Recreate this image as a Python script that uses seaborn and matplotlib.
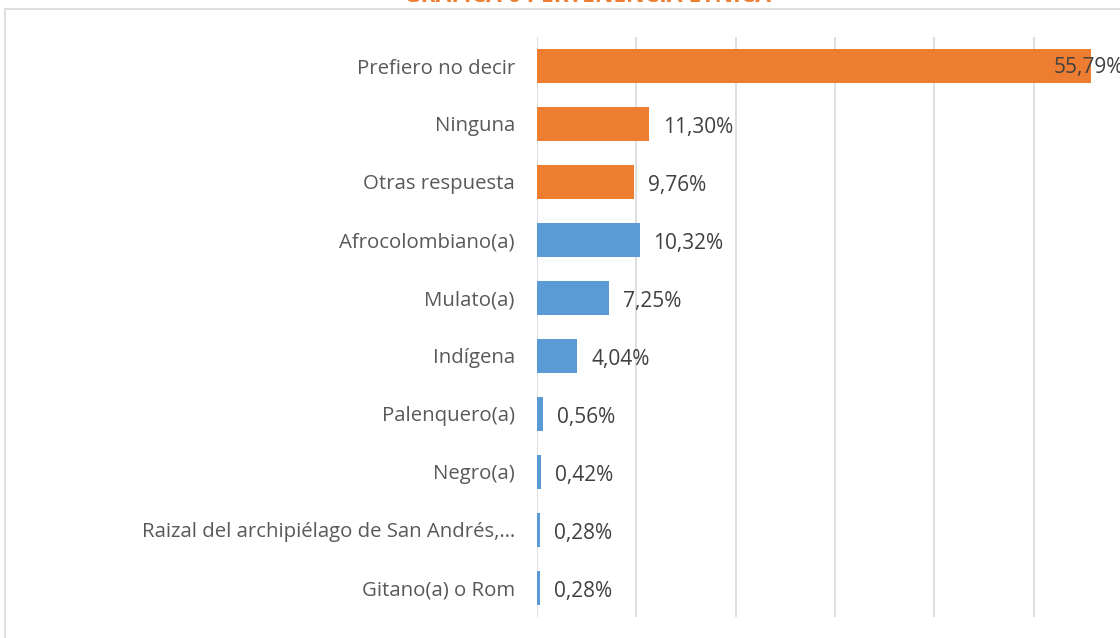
import pandas as pd
import matplotlib.pyplot as plt
import seaborn as sns
from matplotlib.patches import Rectangle

# values
categorias = ["Prefiero no decir", "Ninguna", "Otras respuesta", "Afrocolombiano(a)",
              "Mulato(a)", "Indígena", "Palenquero(a)", "Negro(a)",
              "Raizal del archipiélago de San Andrés,…", "Gitano(a) o Rom"]
porcentajes = [55.79, 11.30, 9.76, 10.32, 7.25, 4.04, 0.56, 0.42, 0.28, 0.28]
grupos = ["otro", "otro", "otro", "etnia", "etnia", "etnia", "etnia", "etnia", "etnia", "etnia"]
etiquetas = ["55,79%", "11,30%", "9,76%", "10,32%", "7,25%", "4,04%", "0,56%", "0,42%", "0,28%", "0,28%"]

df = pd.DataFrame({"categoria": categorias, "pct": porcentajes, "grupo": grupos})

sns.set_style("white")
plt.rcParams['font.family'] = ['Open Sans', 'DejaVu Sans']

fig = plt.figure(figsize=(11.2, 6.38), dpi=100)
ax = fig.add_axes([537 / 1120, 21 / 638, 596 / 1120, 580 / 638])

sns.barplot(data=df, y="categoria", x="pct", hue="grupo", dodge=False, width=0.6,
            palette={"otro": "#ED7D31", "etnia": "#5B9BD5"}, legend=False,
            saturation=1, linewidth=0, ax=ax, zorder=3)

ax.set_xlim(0, 60)
ax.set_ylim(9.5, -0.5)
ax.set_xticks(range(0, 61, 10))
ax.set_xticklabels([])
ax.grid(axis="x", color="#D9D9D9", lw=1.2, zorder=0)
ax.tick_params(axis="both", length=0)
ax.tick_params(axis="y", pad=16, labelsize=14.7, labelcolor="#595959")
for s in ax.spines.values():
    s.set_visible(False)
ax.set_xlabel("")
ax.set_ylabel("")

for i, (v, t) in enumerate(zip(porcentajes, etiquetas)):
    if v > 50:
        ax.annotate(t, (v, i), xytext=(-38, -2), textcoords="offset pixels",
                    va="center", ha="left", fontsize=15, color="#404040", zorder=4)
    else:
        ax.annotate(t, (v, i), xytext=(14, -3), textcoords="offset pixels",
                    va="center", ha="left", fontsize=15, color="#404040", zorder=4)

# chart area border
fig.patches.append(Rectangle((5 / 1120, -0.1), 1.2, 1 - 9 / 638 + 0.1,
                             transform=fig.transFigure, fill=False,
                             edgecolor="#D9D9D9", lw=1.2))

fig.text(0.525, 1 - 2 / 638, "GRÁFICA 6 PERTENENCIA ÉTNICA", ha="center", va="baseline",
         fontsize=16.5, fontweight="bold", color="#ED7D31")

fig.savefig("out.png", dpi=100)
